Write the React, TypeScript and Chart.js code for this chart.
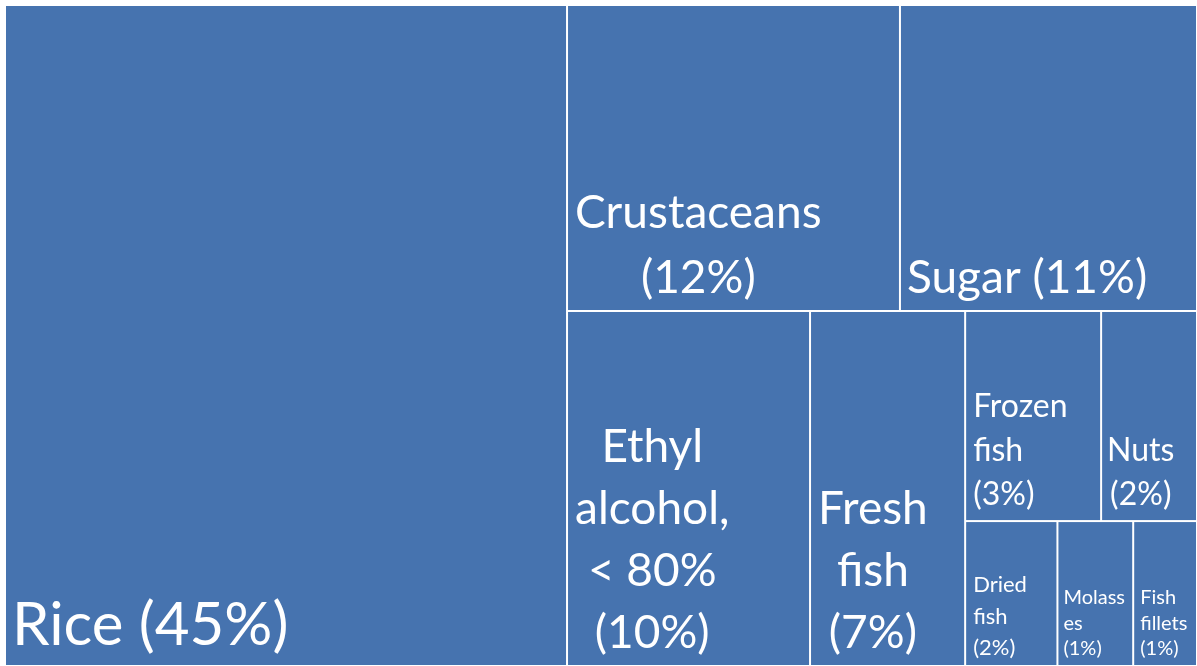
import { useEffect, useRef } from 'react';
import { Chart, registerables } from 'chart.js';

Chart.register(...registerables);

// ---- data ----
const names = ['Rice', 'Crustaceans', 'Sugar', 'Ethyl alcohol, < 80%', 'Fresh fish', 'Frozen fish', 'Nuts', 'Dried fish', 'Molasses', 'Fish fillets'];
const nameLines = [['Rice'], ['Crustaceans'], ['Sugar'], ['Ethyl', 'alcohol,', '< 80%'], ['Fresh', 'fish'], ['Frozen', 'fish'], ['Nuts'], ['Dried', 'fish'], ['Molass', 'es'], ['Fish', 'fillets']];
const values = [45.0, 12.34, 11.01, 10.45, 6.67, 3.46, 2.44, 1.62, 1.33, 1.12];
// treemap grouping: number of items per strip and the side each strip is cut from
const groupSizes = [1, 2, 1, 1, 2, 3];
const groupSides = ['left', 'top', 'left', 'left', 'top', 'top'];

// ---- styles ----
const FILL = '#4673AF';
const FONT = 'Lato, "Open Sans", sans-serif';
const labelStyles = [
  { size: 60, align: 'left', lh: 72, base: 21, pad: 7 },
  { size: 46, align: 'block', lh: 65, base: 18, pad: 8 },
  { size: 46, align: 'left', lh: 65, base: 18, pad: 7 },
  { size: 46, align: 'block', lh: 62, base: 18, pad: 8 },
  { size: 46, align: 'block', lh: 62, base: 18, pad: 8 },
  { size: 32, align: 'left', lh: 44, base: 16, pad: 8 },
  { size: 32, align: 'block', lh: 44, base: 16, pad: 6 },
  { size: 22, align: 'left', lh: 31.5, base: 11, pad: 8 },
  { size: 20, align: 'left', lh: 25.5, base: 11, pad: 6 },
  { size: 20, align: 'left', lh: 25.5, base: 11, pad: 7 },
];

const sum = (a: number[]) => a.reduce((s, v) => s + v, 0);

function layout(vals: number[], sizes: number[], sides: string[]) {
  let rx0 = 0, ry0 = 0;
  const rx1 = 1, ry1 = 1;
  let idx = 0;
  let remaining = sum(vals);
  const out: { x0: number; x1: number; y0: number; y1: number }[] = [];
  sizes.forEach((n, g) => {
    const items = vals.slice(idx, idx + n);
    const s = sum(items);
    const frac = s / remaining;
    if (sides[g] === 'left') {
      const xm = rx0 + (rx1 - rx0) * frac;
      let yy = ry0;
      items.forEach((v) => {
        const h = (ry1 - ry0) * v / s;
        out.push({ x0: rx0, x1: xm, y0: yy, y1: yy + h });
        yy += h;
      });
      rx0 = xm;
    } else {
      const ym = ry0 + (ry1 - ry0) * frac;
      let xx = rx0;
      items.forEach((v) => {
        const w = (rx1 - rx0) * v / s;
        out.push({ x0: xx, x1: xx + w, y0: ry0, y1: ym });
        xx += w;
      });
      ry0 = ym;
    }
    remaining -= s;
    idx += n;
  });
  return out;
}

const treemapPlugin = {
  id: 'treemapCells',
  afterDatasetsDraw(chart: any) {
    const { ctx, scales } = chart;
    const xs = scales.x, ys = scales.y;
    const rects = layout(values, groupSizes, groupSides);
    ctx.save();
    rects.forEach((r, i) => {
      const px0 = xs.getPixelForValue(r.x0), px1 = xs.getPixelForValue(r.x1);
      const py0 = ys.getPixelForValue(r.y0), py1 = ys.getPixelForValue(r.y1);
      ctx.fillStyle = FILL;
      ctx.fillRect(px0 + 1, py0 + 1, px1 - px0 - 2, py1 - py0 - 2);

      const st = labelStyles[i];
      ctx.font = `${st.size}px ${FONT}`;
      ctx.fillStyle = '#FFFFFF';
      ctx.textBaseline = 'alphabetic';
      const pct = `(${Math.round(values[i])}%)`;
      const lines = nameLines[i].slice();
      const innerW = px1 - px0 - 2 * st.pad;
      if (lines.length === 1 && ctx.measureText(`${lines[0]} ${pct}`).width <= innerW) {
        lines[0] = `${lines[0]} ${pct}`;
      } else {
        lines.push(pct);
      }
      const maxW = Math.max(...lines.map((l) => ctx.measureText(l).width));
      const left = px0 + st.pad;
      const lastBase = py1 - st.base;
      lines.forEach((l, k) => {
        const yb = lastBase - (lines.length - 1 - k) * st.lh;
        if (st.align === 'block') {
          ctx.textAlign = 'center';
          ctx.fillText(l, left + maxW / 2, yb);
        } else {
          ctx.textAlign = 'left';
          ctx.fillText(l, left, yb);
        }
      });
    });
    ctx.restore();
  },
};

export default function App() {
  const ref = useRef<HTMLCanvasElement | null>(null);
  useEffect(() => {
    if (!ref.current) return;
    const chart = new Chart(ref.current, {
      type: 'scatter',
      data: { datasets: [{ label: 'Share of exports', data: [] }] },
      options: {
        animation: false,
        responsive: true,
        maintainAspectRatio: false,
        layout: { padding: { left: 5, top: 5, right: 0, bottom: 0 } },
        plugins: { legend: { display: false }, tooltip: { enabled: false } },
        scales: {
          x: { type: 'linear', min: 0, max: 1, display: false },
          y: { type: 'linear', min: 0, max: 1, reverse: true, display: false },
        },
      },
      plugins: [treemapPlugin],
    });
    return () => chart.destroy();
  }, []);
  return (
    <div style={{ position: 'fixed', left: 0, top: 0, width: 1197, height: 666, background: '#FFFFFF' }}>
      <canvas ref={ref} aria-label={names.join(', ')} />
    </div>
  );
}
